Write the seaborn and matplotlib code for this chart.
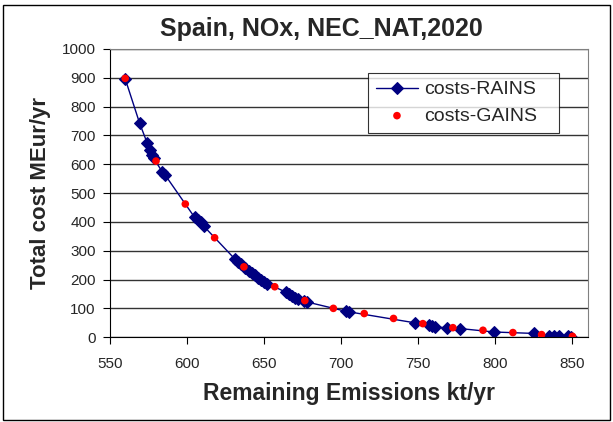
import numpy as np
import pandas as pd
import matplotlib
matplotlib.use("Agg")
import matplotlib.pyplot as plt
import seaborn as sns
from matplotlib.patches import Rectangle

# data
rains_x = [560, 569.4, 574.4, 575.9, 577.4, 578.6, 584, 586, 605, 607, 609, 611,
           631, 633, 635, 638, 640, 642, 644, 646, 648, 650, 652,
           664, 666, 668, 670, 672, 676, 678, 703, 705, 747.6, 757, 759, 761,
           768.7, 777, 799, 825, 835, 838, 841, 847, 849]
rains_y = [897, 742, 672, 649, 632, 620, 574, 562, 416, 406, 398, 385,
           272, 262, 253, 240, 230, 222, 214, 205, 198, 192, 186,
           157, 150, 143, 136, 131, 127, 122, 90, 88, 50, 42, 38, 36,
           32, 30, 18, 13, 5, 5, 5, 3, 1]
gains_x = [560, 580, 599, 618, 637, 657, 676.5, 695, 715, 734, 753, 772.5, 792, 811.4, 830, 850]
gains_y = [898, 611, 462, 345, 244, 175, 127, 100, 82, 65, 47, 33, 24, 16, 9, 3]

rains = pd.DataFrame({"x": rains_x, "y": rains_y})
gains = pd.DataFrame({"x": gains_x, "y": gains_y})

sns.set_style("white")
plt.rcParams['font.family'] = ['Liberation Sans', 'DejaVu Sans']

fig = plt.figure(figsize=(6.13, 4.22), dpi=100)
ax = fig.add_axes([0.179, 0.201, 0.78, 0.683])

sns.lineplot(data=rains, x="x", y="y", ax=ax, sort=False, color="#000080",
             linewidth=1, marker="D", markersize=5.8, markeredgecolor="#000080",
             label="costs-RAINS")
sns.scatterplot(data=gains, x="x", y="y", ax=ax, color="#ff0000", s=30,
                edgecolor="none", label="costs-GAINS", zorder=5)

ax.set_xlim(550, 860)
ax.set_ylim(0, 1000)
ax.set_xticks(np.arange(550, 851, 50))
ax.set_yticks(np.arange(0, 1001, 100))
ax.yaxis.grid(True, color="#333333", linewidth=1)
ax.set_axisbelow(True)

for s in ["top", "right"]:
    ax.spines[s].set_color("#808080")
for s in ["left", "bottom"]:
    ax.spines[s].set_color("black")
ax.tick_params(axis="both", which="both", direction="out", length=5,
               color="black", labelsize=11, bottom=True, left=True)
ax.tick_params(axis="x", pad=9)
ax.tick_params(axis="y", pad=5)

ax.set_xlabel("Remaining Emissions kt/yr", fontsize=16.5, fontweight="bold", labelpad=8)
ax.set_ylabel("Total cost MEur/yr", fontsize=16, fontweight="bold", labelpad=8)
fig.text(0.525, 0.932, "Spain, NOx, NEC_NAT,2020", ha="center", va="center",
         fontsize=18, fontweight="bold")

leg = ax.legend(loc="upper left", bbox_to_anchor=(0.6, 0.678, 0.312, 0.149),
                bbox_transform=fig.transFigure, mode="expand", fontsize=14,
                frameon=True, fancybox=False, borderaxespad=0, handlelength=2.2,
                handletextpad=0.3, labelspacing=0.45, borderpad=0.4)
leg.get_frame().set_edgecolor("black")
leg.get_frame().set_linewidth(0.8)

fig.patches.append(Rectangle((0.005, 0.004), 0.99, 0.983, transform=fig.transFigure,
                             fill=False, edgecolor="black", linewidth=1))

fig.savefig("out.png", dpi=100)
